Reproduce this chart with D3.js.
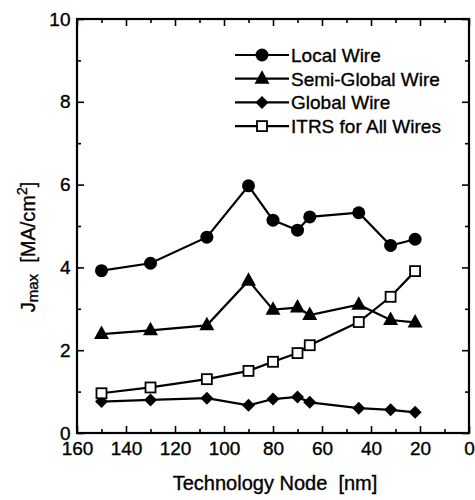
<!DOCTYPE html>
<html>
<head>
<meta charset="utf-8">
<script src="https://cdn.jsdelivr.net/npm/d3@7"></script>
<style>
  body { margin: 0; background: #fff; }
  svg { font-family: "Liberation Sans", Arial, sans-serif; }
  svg text { stroke: #000; stroke-width: 0.35px; white-space: pre; }
</style>
</head>
<body>
<div id="vis"></div>
<script>
// technology node (nm) for each measured point
var nodes = [150, 130, 107, 90, 80, 70, 65, 45, 32, 22];

// J max values, MA/cm2
var localWire = [3.92, 4.10, 4.73, 5.97, 5.14, 4.90, 5.22, 5.32, 4.53, 4.68];
var semiGlobalWire = [2.39, 2.48, 2.60, 3.68, 2.98, 3.03, 2.85, 3.10, 2.73, 2.67];
var globalWire = [0.76, 0.80, 0.84, 0.67, 0.82, 0.87, 0.74, 0.60, 0.56, 0.50];
var itrsAllWires = [0.96, 1.10, 1.30, 1.50, 1.72, 1.93, 2.12, 2.68, 3.29, 3.91];

var seriesNames = ['Local Wire', 'Semi-Global Wire', 'Global Wire', 'ITRS for All Wires'];
var seriesMarkers = ['circle', 'triangle', 'diamond', 'square'];

var xTicks = [160, 140, 120, 100, 80, 60, 40, 20, 0];
var xMinorTicks = [150, 130, 110, 90, 70, 50, 30, 10];
var yTicks = [0, 2, 4, 6, 8, 10];
var yMinorTicks = [1, 3, 5, 7, 9];

var width = 475;
var height = 500;
var margin = { left: 77, right: 6, top: 19, bottom: 67 };

var svg = d3.select('#vis')
  .append('svg')
  .attr('width', width)
  .attr('height', height);

var x = d3.scaleLinear()
  .domain([160, 0])
  .range([margin.left, width - margin.right]);

var y = d3.scaleLinear()
  .domain([0, 10])
  .range([height - margin.bottom, margin.top]);

var x0 = x.range()[0], x1 = x.range()[1];
var y0 = y.range()[0], y1 = y.range()[1];

function styleAxis(g) {
  g.select('.domain').remove();
  g.selectAll('line').attr('stroke', '#000').attr('stroke-width', 1.6);
  g.selectAll('text').attr('fill', '#000').attr('font-size', 19);
}

// bottom axis with labels, major + minor ticks
svg.append('g')
  .attr('transform', 'translate(0,' + y0 + ')')
  .call(d3.axisBottom(x).tickValues(xTicks).tickSize(-7).tickSizeOuter(0).tickPadding(8.5).tickFormat(d3.format('d')))
  .call(styleAxis);
svg.append('g')
  .attr('transform', 'translate(0,' + y0 + ')')
  .call(d3.axisBottom(x).tickValues(xMinorTicks).tickSize(-4).tickSizeOuter(0).tickFormat(''))
  .call(styleAxis);

// top axis, ticks only
svg.append('g')
  .attr('transform', 'translate(0,' + y1 + ')')
  .call(d3.axisTop(x).tickValues(xTicks).tickSize(-7).tickSizeOuter(0).tickFormat(''))
  .call(styleAxis);
svg.append('g')
  .attr('transform', 'translate(0,' + y1 + ')')
  .call(d3.axisTop(x).tickValues(xMinorTicks).tickSize(-4).tickSizeOuter(0).tickFormat(''))
  .call(styleAxis);

// left axis with labels
svg.append('g')
  .attr('transform', 'translate(' + x0 + ',0)')
  .call(d3.axisLeft(y).tickValues(yTicks).tickSize(-7).tickSizeOuter(0).tickPadding(6.5).tickFormat(d3.format('d')))
  .call(styleAxis);
svg.append('g')
  .attr('transform', 'translate(' + x0 + ',0)')
  .call(d3.axisLeft(y).tickValues(yMinorTicks).tickSize(-4).tickSizeOuter(0).tickFormat(''))
  .call(styleAxis);

// right axis, ticks only
svg.append('g')
  .attr('transform', 'translate(' + x1 + ',0)')
  .call(d3.axisRight(y).tickValues(yTicks).tickSize(-7).tickSizeOuter(0).tickFormat(''))
  .call(styleAxis);
svg.append('g')
  .attr('transform', 'translate(' + x1 + ',0)')
  .call(d3.axisRight(y).tickValues(yMinorTicks).tickSize(-4).tickSizeOuter(0).tickFormat(''))
  .call(styleAxis);

// frame
svg.append('rect')
  .attr('x', x0)
  .attr('y', y1)
  .attr('width', x1 - x0)
  .attr('height', y0 - y1)
  .attr('fill', 'none')
  .attr('stroke', '#000')
  .attr('stroke-width', 2.2);

// axis titles
svg.append('text')
  .attr('x', 275)
  .attr('y', 489.5)
  .attr('text-anchor', 'middle')
  .attr('font-size', 20)
  .text('Technology Node  [nm]');

var yTitle = svg.append('text')
  .attr('transform', 'translate(35,247) rotate(-90)')
  .attr('text-anchor', 'middle')
  .attr('font-size', 20);
yTitle.append('tspan').text('J');
yTitle.append('tspan').attr('font-size', 15).attr('dy', 3).text('max');
yTitle.append('tspan').attr('dy', -3).text('  [MA/cm');
yTitle.append('tspan').attr('font-size', 14).attr('dy', -8.5).text('2');
yTitle.append('tspan').attr('dy', 8.5).text(']');

function drawMarker(g, type, cx, cy) {
  if (type === 'circle') {
    g.append('circle').attr('cx', cx).attr('cy', cy).attr('r', 6.5).attr('fill', '#000');
  } else if (type === 'triangle') {
    g.append('path')
      .attr('d', 'M' + cx + ',' + (cy - 8.5) + 'L' + (cx + 7.5) + ',' + (cy + 5) + 'L' + (cx - 7.5) + ',' + (cy + 5) + 'Z')
      .attr('fill', '#000');
  } else if (type === 'diamond') {
    g.append('path')
      .attr('d', 'M' + cx + ',' + (cy - 6.5) + 'L' + (cx + 6.5) + ',' + cy + 'L' + cx + ',' + (cy + 6.5) + 'L' + (cx - 6.5) + ',' + cy + 'Z')
      .attr('fill', '#000');
  } else {
    g.append('rect')
      .attr('x', cx - 5).attr('y', cy - 5).attr('width', 10).attr('height', 10)
      .attr('fill', '#fff').attr('stroke', '#000').attr('stroke-width', 1.8);
  }
}

var allSeries = [localWire, semiGlobalWire, globalWire, itrsAllWires];

var line = d3.line()
  .x(function (d) { return x(d.node); })
  .y(function (d) { return y(d.value); });

allSeries.forEach(function (values, i) {
  var pts = nodes.map(function (n, j) { return { node: n, value: values[j] }; });
  var g = svg.append('g');
  g.append('path')
    .datum(pts)
    .attr('d', line)
    .attr('fill', 'none')
    .attr('stroke', '#000')
    .attr('stroke-width', 2.2);
  pts.forEach(function (p) {
    drawMarker(g, seriesMarkers[i], x(p.node), y(p.value));
  });
});

// legend
var legend = svg.append('g');
seriesNames.forEach(function (name, i) {
  var ly = 55 + i * 23.7;
  legend.append('line')
    .attr('x1', 235).attr('x2', 289)
    .attr('y1', ly).attr('y2', ly)
    .attr('stroke', '#000')
    .attr('stroke-width', 2.2);
  drawMarker(legend, seriesMarkers[i], 262, ly);
  legend.append('text')
    .attr('x', 291)
    .attr('y', ly)
    .attr('dy', '0.36em')
    .attr('font-size', 19)
    .text(name);
});
</script>
</body>
</html>
